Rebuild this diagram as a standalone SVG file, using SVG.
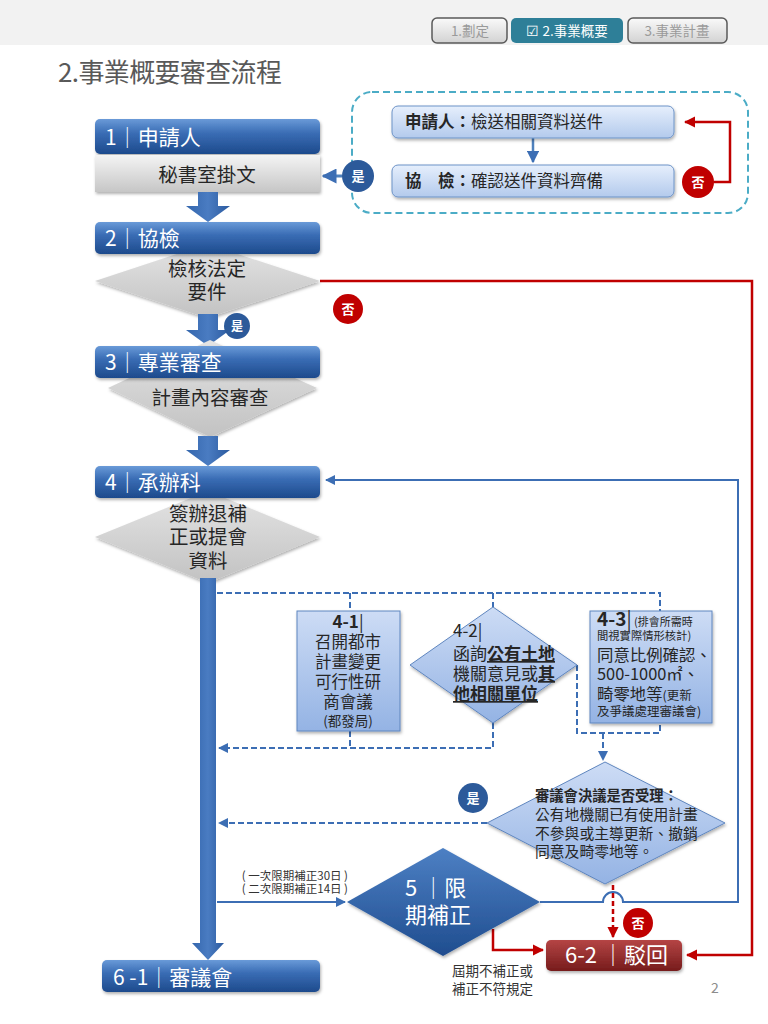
<svg xmlns="http://www.w3.org/2000/svg" width="768" height="1024" viewBox="0 0 768 1024">
<style>
.t{font-family:"Noto Sans CJK TC","Liberation Sans",sans-serif;}
.w{fill:#ffffff;}
.k{fill:#262626;}
.bx{fill:url(#gBlue);}
.gy{fill:url(#gGray);}
.lb{fill:url(#gLight);stroke:#6d93c7;stroke-width:1;}
.lb2{fill:url(#gLight2);stroke:#5f86bf;stroke-width:1;}
.cb{fill:#2c5a9a;}
.cr{fill:#c00000;}
.sb{fill:none;stroke:#3c6eb4;stroke-width:2;}
.sd{fill:none;stroke:#3c6eb4;stroke-width:2;stroke-dasharray:6 3;}
.sr{fill:none;stroke:#c00000;stroke-width:2.5;}
.ta{fill:url(#gArrow);}
</style>
<defs>
<linearGradient id="gBlue" x1="0" y1="0" x2="0" y2="1">
<stop offset="0" stop-color="#6a9ad8"/><stop offset="0.4" stop-color="#3a6db5"/><stop offset="1" stop-color="#1d4a8c"/>
</linearGradient>
<linearGradient id="gDia5" x1="0" y1="0" x2="0" y2="1">
<stop offset="0" stop-color="#4d80c4"/><stop offset="1" stop-color="#1f4d8f"/>
</linearGradient>
<linearGradient id="gArrow" x1="0" y1="0" x2="1" y2="0">
<stop offset="0" stop-color="#3466ad"/><stop offset="0.5" stop-color="#4a7cc2"/><stop offset="1" stop-color="#2b5a9f"/>
</linearGradient>
<linearGradient id="gGray" x1="0" y1="0" x2="0" y2="1">
<stop offset="0" stop-color="#f4f4f4"/><stop offset="1" stop-color="#c6c6c6"/>
</linearGradient>
<linearGradient id="gDiaG" x1="0" y1="0" x2="0" y2="1">
<stop offset="0" stop-color="#e4e4e4"/><stop offset="1" stop-color="#c2c2c2"/>
</linearGradient>
<linearGradient id="gLight" x1="0" y1="0" x2="0" y2="1">
<stop offset="0" stop-color="#e6effc"/><stop offset="1" stop-color="#b3caec"/>
</linearGradient>
<linearGradient id="gLight2" x1="0" y1="0" x2="0" y2="1">
<stop offset="0" stop-color="#cddcf5"/><stop offset="1" stop-color="#94b3e4"/>
</linearGradient>
<linearGradient id="gRed" x1="0" y1="0" x2="0" y2="1">
<stop offset="0" stop-color="#b54545"/><stop offset="1" stop-color="#761b1b"/>
</linearGradient>
<linearGradient id="gTab" x1="0" y1="0" x2="0" y2="1">
<stop offset="0" stop-color="#fafafa"/><stop offset="1" stop-color="#d2d2d2"/>
</linearGradient>
<filter id="sh" x="-10%" y="-20%" width="125%" height="150%">
<feDropShadow dx="1" dy="2" stdDeviation="1.5" flood-color="#000" flood-opacity="0.3"/>
</filter>
<marker id="aB" viewBox="0 0 10 10" refX="9" refY="5" markerWidth="5" markerHeight="5" orient="auto"><path d="M0,0 L10,5 L0,10 z" fill="#3c6eb4"/></marker>
<marker id="aR" viewBox="0 0 10 10" refX="9" refY="5" markerWidth="4.5" markerHeight="4.5" orient="auto"><path d="M0,0 L10,5 L0,10 z" fill="#c00000"/></marker>
</defs>

<rect x="0" y="0" width="768" height="1024" fill="#ffffff"/>
<rect x="0" y="0" width="768" height="45" fill="#f2f2f2"/>

<g id="tabs">
<rect x="432" y="18" width="75" height="25" rx="5" fill="url(#gTab)" stroke="#5a5a5a" stroke-width="1.5"/>
<text class="t" x="470" y="36" font-size="13.5" fill="#9a9a9a" text-anchor="middle">1.劃定</text>
<rect x="511" y="18" width="112" height="25" rx="5" fill="#2e7f98"/>
<text class="t w" x="567" y="36" font-size="13.5" text-anchor="middle">☑ 2.事業概要</text>
<rect x="628" y="18" width="99" height="25" rx="5" fill="url(#gTab)" stroke="#5a5a5a" stroke-width="1.5"/>
<text class="t" x="677" y="36" font-size="13.5" fill="#9a9a9a" text-anchor="middle">3.事業計畫</text>
</g>

<text id="title" class="t" x="58" y="82" font-size="26" fill="#595959" textLength="224" lengthAdjust="spacing">2.事業概要審查流程</text>

<g id="checkgroup">
<rect x="352" y="92" width="396" height="121" rx="20" fill="none" stroke="#4bacc6" stroke-width="2" stroke-dasharray="7 4"/>
</g>

<g id="connectors">
<line x1="533" y1="138" x2="533" y2="162" stroke="#4f81bd" stroke-width="2.5" marker-end="url(#aB)"/>
<path class="sr" d="M714,182 H730 V122 H685" marker-end="url(#aR)"/>
<path d="M342,176 H323" fill="none" stroke="#4f81bd" stroke-width="3" marker-end="url(#aB)"/>
<path class="sr" d="M320,281 H752 V955 H687" marker-end="url(#aR)"/>
<path class="sb" d="M540,902 H603 A10,10 0 0 1 623,902 H738 V480 H326" marker-end="url(#aB)"/>
<path class="sb" d="M217,902 H345" marker-end="url(#aB)"/>
<path class="sd" d="M217,593 H660 V611"/>
<path class="sd" d="M350,593 V611"/>
<path class="sd" d="M493,593 V607"/>
<path class="sd" d="M350,731 V748"/>
<path class="sd" d="M493,723 V748 H219" marker-end="url(#aB)"/>
<path class="sd" d="M577,665 V733 H660 V723"/>
<path class="sd" d="M603,733 V760" marker-end="url(#aB)"/>
<path class="sd" d="M487,823 H219" marker-end="url(#aB)"/>
<path d="M613,885 V937" fill="none" stroke="#c00000" stroke-width="2.5" stroke-dasharray="5 3" marker-end="url(#aR)"/>
<path class="sr" d="M493,929 V950 H543" marker-end="url(#aR)"/>
</g>

<g id="checkA">
<rect class="lb" x="392" y="106" width="282" height="32" rx="6" filter="url(#sh)"/>
<text class="t k" x="405" y="128" font-size="16.5"><tspan font-weight="bold">申請人：</tspan>檢送相關資料送件</text>
</g>
<g id="checkB">
<rect class="lb" x="392" y="165" width="282" height="32" rx="6" filter="url(#sh)"/>
<text class="t k" x="405" y="187" font-size="16.5"><tspan font-weight="bold">協　檢：</tspan>確認送件資料齊備</text>
</g>
<g id="no1"><circle class="cr" cx="698" cy="182" r="16"/><text class="t w" x="698" y="187" font-size="13" font-weight="bold" text-anchor="middle">否</text></g>
<g id="yes1"><circle class="cb" cx="358" cy="176" r="16"/><text class="t w" x="358" y="181" font-size="13" font-weight="bold" text-anchor="middle">是</text></g>

<g id="n1">
<rect class="bx" x="95" y="119" width="225" height="35" rx="5" filter="url(#sh)"/>
<text class="t w" x="105" y="145" font-size="21">1│申請人</text>
</g>
<g id="n1b">
<rect class="gy" x="95" y="155" width="225" height="37" filter="url(#sh)"/>
<text class="t k" x="207" y="182" font-size="19.5" text-anchor="middle">秘書室掛文</text>
</g>
<g id="arrow1"><polygon class="ta" points="198,192 218,192 218,206 230,206 208,222 186,206 198,206"/></g>

<g id="d2">
<polygon points="95,281 207,244 320,281 207,318" fill="url(#gDiaG)" filter="url(#sh)"/>
<text class="t k" font-size="19.5" text-anchor="middle"><tspan x="207" y="276">檢核法定</tspan><tspan x="207" y="299">要件</tspan></text>
</g>
<g id="n2">
<rect class="bx" x="95" y="222" width="225" height="32" rx="5" filter="url(#sh)"/>
<text class="t w" x="105" y="246" font-size="21">2│協檢</text>
</g>
<g id="arrow2"><polygon class="ta" points="198,314 218,314 218,330 230,330 208,346 186,330 198,330"/></g>
<g id="yes2"><circle class="cb" cx="237" cy="326" r="13"/><text class="t w" x="237" y="331" font-size="12" font-weight="bold" text-anchor="middle">是</text></g>
<g id="no2"><circle class="cr" cx="348" cy="309" r="15"/><text class="t w" x="348" y="314" font-size="13" font-weight="bold" text-anchor="middle">否</text></g>

<g id="d3">
<polygon points="108,388 210,340 317,388 210,437" fill="url(#gDiaG)" filter="url(#sh)"/>
<text class="t k" x="210" y="405" font-size="19.5" text-anchor="middle">計畫內容審查</text>
</g>
<g id="n3">
<rect class="bx" x="95" y="346" width="225" height="32" rx="5" filter="url(#sh)"/>
<text class="t w" x="105" y="370" font-size="21">3│專業審查</text>
</g>
<g id="arrow3"><polygon class="ta" points="198,436 218,436 218,450 230,450 208,466 186,450 198,450"/></g>

<g id="d4">
<polygon points="95,537 208,491 320,537 208,583" fill="url(#gDiaG)" filter="url(#sh)"/>
<text class="t k" font-size="19.5" text-anchor="middle"><tspan x="208" y="521">簽辦退補</tspan><tspan x="208" y="544">正或提會</tspan><tspan x="208" y="568">資料</tspan></text>
</g>
<g id="n4">
<rect class="bx" x="95" y="466" width="225" height="32" rx="5" filter="url(#sh)"/>
<text class="t w" x="105" y="490" font-size="21">4│承辦科</text>
</g>
<g id="shaft"><polygon class="ta" points="200,578 216,578 216,943 224,943 208,960 192,943 200,943"/></g>

<g id="n41">
<rect class="lb2" x="297" y="611" width="103" height="120" filter="url(#sh)"/>
<text class="t k" font-size="16.5" text-anchor="middle"><tspan x="348" y="628" font-size="17"><tspan font-weight="bold">4-1</tspan>|</tspan><tspan x="348" y="648">召開都市</tspan><tspan x="348" y="668">計畫變更</tspan><tspan x="348" y="688">可行性研</tspan><tspan x="348" y="708">商會議</tspan><tspan x="348" y="726" font-size="13.5">(都發局)</tspan></text>
</g>

<g id="n42">
<polygon points="410,665 493,607 577,665 493,723" fill="url(#gLight2)" stroke="#5f86bf" stroke-width="1" filter="url(#sh)"/>
<text class="t k" font-size="17"><tspan x="453" y="637">4-2|</tspan><tspan x="453" y="660">函詢</tspan><tspan font-weight="bold" text-decoration="underline">公有土地</tspan><tspan x="453" y="680">機關意見或</tspan><tspan font-weight="bold" text-decoration="underline">其</tspan><tspan x="453" y="700" font-weight="bold" text-decoration="underline">他相關單位</tspan></text>
</g>

<g id="n43">
<rect class="lb2" x="590" y="611" width="122" height="112" filter="url(#sh)"/>
<text class="t k" font-size="16.4"><tspan x="597" y="626" font-size="19" font-weight="bold">4-3</tspan><tspan font-size="19">|</tspan><tspan font-size="11"> (排會所需時</tspan><tspan x="597" y="640" font-size="11.3">間視實際情形核計)</tspan><tspan x="597" y="661">同意比例確認、</tspan><tspan x="597" y="680">500-1000㎡、</tspan><tspan x="597" y="700">畸零地等</tspan><tspan font-size="12.5">(更新</tspan><tspan x="597" y="716" font-size="12.5">及爭議處理審議會)</tspan></text>
</g>

<g id="d6">
<polygon points="487,823 605,762 725,823 605,884" fill="url(#gLight2)" stroke="#5f86bf" stroke-width="1" filter="url(#sh)"/>
<text class="t k" font-size="14.8"><tspan x="535" y="801" font-size="14.3" font-weight="bold">審議會決議是否受理：</tspan><tspan x="535" y="820">公有地機關已有使用計畫</tspan><tspan x="535" y="839">不參與或主導更新、撤銷</tspan><tspan x="535" y="857">同意及畸零地等。</tspan></text>
</g>
<g id="yes3"><circle class="cb" cx="473" cy="798" r="15"/><text class="t w" x="473" y="803" font-size="13" font-weight="bold" text-anchor="middle">是</text></g>

<g id="label5">
<text class="t" font-size="11.5" fill="#333" text-anchor="end"><tspan x="348" y="880">( 一次限期補正30日 )</tspan><tspan x="348" y="893">( 二次限期補正14日 )</tspan></text>
</g>

<g id="n5">
<polygon points="347,902 443,848 540,902 443,956" fill="url(#gDia5)" filter="url(#sh)"/>
<text class="t w" font-size="22"><tspan x="405" y="896">5 │限</tspan><tspan x="405" y="923">期補正</tspan></text>
</g>
<g id="label62">
<text class="t" font-size="13.5" fill="#333"><tspan x="452" y="976">屆期不補正或</tspan><tspan x="452" y="994">補正不符規定</tspan></text>
</g>
<g id="no3"><circle class="cr" cx="638" cy="923" r="15"/><text class="t w" x="638" y="928" font-size="13" font-weight="bold" text-anchor="middle">否</text></g>

<g id="n62">
<rect x="546" y="940" width="136" height="31" rx="5" fill="url(#gRed)" filter="url(#sh)"/>
<text class="t w" x="565" y="963" font-size="22">6-2 │駁回</text>
</g>

<g id="n61">
<rect class="bx" x="102" y="960" width="218" height="32" rx="5" filter="url(#sh)"/>
<text class="t w" x="113" y="985" font-size="21">6 -1│審議會</text>
</g>

<text class="t" x="715" y="993" font-size="14" fill="#8c8c8c" text-anchor="middle">2</text>
</svg>
